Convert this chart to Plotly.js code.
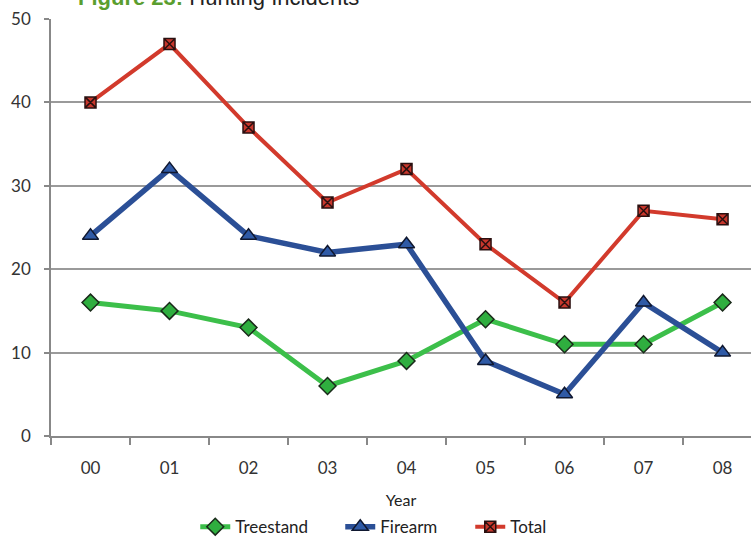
<!DOCTYPE html>
<html><head><meta charset="utf-8">
<script src="https://cdn.plot.ly/plotly-3.0.1.min.js"></script>
<style>html,body{margin:0;padding:0;background:#fff}#chart{width:751px;height:539px}</style>
</head><body><div id="chart"></div>
<script>
const years = ["00","01","02","03","04","05","06","07","08"];
const treestand = [16,15,13,6,9,14,11,11,16];
const firearm = [24,32,24,22,23,9,5,16,10];
const total = [40,47,37,28,32,23,16,27,26];
const yTicks = [0,10,20,30,40,50];

const font = "Lato, 'Open Sans', sans-serif";
const traces = [
  {x: years, y: treestand, name: "Treestand", mode: "lines+markers", type: "scatter", legendwidth: 100,
   line: {color: "#3cbf4a", width: 5},
   marker: {symbol: "diamond", size: 13, color: "#2fae3f", line: {color: "#1a2a1a", width: 1.5}}},
  {x: years, y: firearm, name: "Firearm", mode: "lines+markers", type: "scatter", legendwidth: 85,
   line: {color: "#2b4f96", width: 5.5},
   marker: {symbol: "triangle-up", size: 14, color: "#2f5aa6", line: {color: "#101830", width: 1.5}}},
  {x: years, y: total, name: "Total", mode: "lines+markers", type: "scatter", legendwidth: 45,
   line: {color: "#d23a2c", width: 4},
   marker: {symbol: "square-x", size: 11, color: "#c8372c", line: {color: "#2a1010", width: 1.5}}}
];
const layout = {
  width: 751, height: 539,
  margin: {l: 51, r: 0, t: 19, b: 103, autoexpand: false},
  paper_bgcolor: "#fff", plot_bgcolor: "#fff",
  font: {family: font, color: "#333", size: 17},
  showlegend: true,
  legend: {orientation: "h", x: 0.503, xref: "container", xanchor: "center", y: 0.022, yref: "container", yanchor: "middle",
    font: {size: 17, color: "#222"}, itemwidth: 30},
  xaxis: {type: "category", range: [-0.5, 8.36], tickson: "boundaries", ticks: "outside", ticklen: 7, tickcolor: "#888", tickwidth: 1.5,
    showline: true, linecolor: "#888", linewidth: 1.5, showgrid: false, ticklabelstandoff: 16, automargin: false,
    title: {text: "Year", standoff: 18, font: {size: 16, color: "#222"}}, tickfont: {size: 17, color: "#333"}},
  yaxis: {range: [0, 50], tickvals: yTicks, ticks: "outside", ticklen: 5, tickcolor: "#888", tickwidth: 1.5, automargin: false,
    showline: true, linecolor: "#888", linewidth: 1.5, showgrid: true, gridcolor: "#9a9a9a", gridwidth: 1.8,
    zeroline: false, ticklabelstandoff: 10, tickfont: {size: 17, color: "#333"}},
  annotations: [{xref: "paper", yref: "paper", x: 0.035, y: 1, xanchor: "left", yanchor: "bottom", yshift: 7, showarrow: false,
    text: "<b><span style='color:#5a9e2f'>Figure 23:</span></b> Hunting Incidents",
    font: {family: "Liberation Sans, Arial, sans-serif", size: 22, color: "#222"}}]
};
Plotly.newPlot("chart", traces, layout, {displayModeBar: false});
</script></body></html>
